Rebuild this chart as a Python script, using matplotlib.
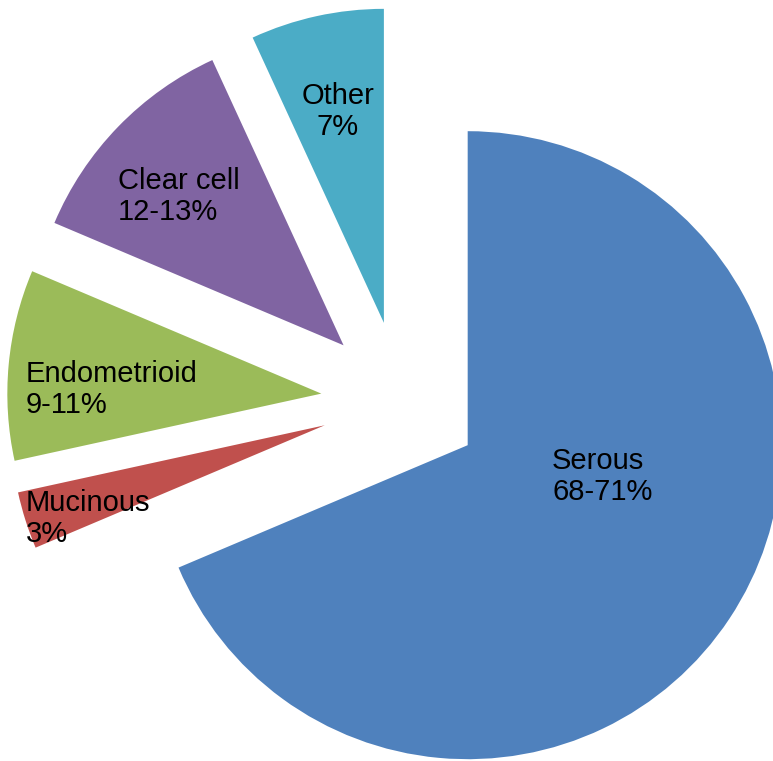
import matplotlib.pyplot as plt

# Data
categories = ['Serous', 'Mucinous', 'Endometrioid', 'Clear cell', 'Other']
share_labels = ['68-71%', '3%', '9-11%', '12-13%', '7%']
values = [70, 3, 10, 12, 7]
colors = ['#4F81BD', '#C0504D', '#9BBB59', '#8064A2', '#4BACC6']

# Layout (pixels on the 773x761 canvas)
W, H = 773, 761
R_PX = 314            # pie radius
CX, CY = 401, 401     # pie centre
# baseline of the last text line, per label
label_pos = [(552, 500), (26, 542), (26, 413), (118, 220), (338, 135)]
label_ha = ['left', 'left', 'left', 'left', 'center']

fig = plt.figure(figsize=(W / 100, H / 100), dpi=100)
ax = fig.add_axes([0, 0, 1, 1])

ax.pie(values, colors=colors, startangle=90, counterclock=False,
       explode=[80 / R_PX] * len(values), radius=1,
       wedgeprops=dict(linewidth=0))

ax.set_aspect('auto')
ax.set_xlim(-CX / R_PX, (W - CX) / R_PX)
ax.set_ylim(-(H - CY) / R_PX, CY / R_PX)
ax.axis('off')

for cat, share, (px, py), ha in zip(categories, share_labels, label_pos, label_ha):
    fig.text(px / W, 1 - py / H, f'{cat}\n{share}', ha=ha, va='baseline',
             multialignment=ha, fontsize=21, family='Liberation Sans',
             linespacing=1.15, color='black')

fig.savefig('out.png', dpi=100)
